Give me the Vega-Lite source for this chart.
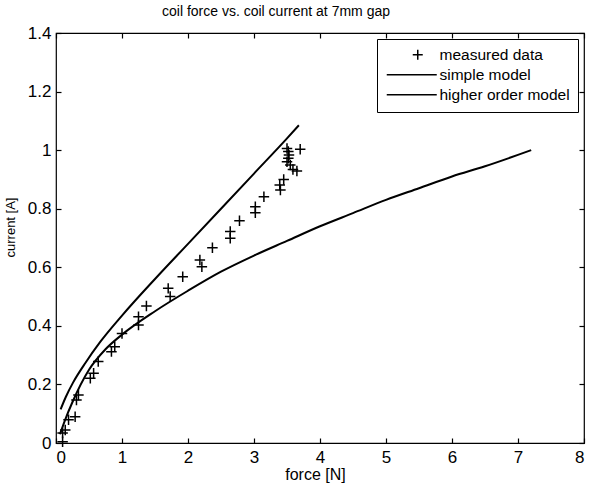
{
  "$schema": "https://vega.github.io/schema/vega-lite/v6.json",
  "width": 528,
  "height": 410,
  "autosize": {"type": "none"},
  "padding": {"left": 56, "top": 33, "right": 12, "bottom": 44},
  "background": "white",
  "title": {"text": "coil force vs. coil current at 7mm gap", "font": "Liberation Sans", "fontSize": 14, "fontWeight": "normal", "color": "black", "offset": 5, "dx": -44},
  "config": {
    "view": {"stroke": "black", "strokeWidth": 1.2},
    "axis": {"grid": false, "domain": false, "tickColor": "black", "tickSize": -5, "tickWidth": 1.2, "labelColor": "black", "labelFont": "Liberation Sans", "labelFontSize": 17, "titleFont": "Liberation Sans", "titleFontWeight": "normal", "titleColor": "black", "format": ".1~f"}
  },
  "data": {"values": [
    {"series": "measured data", "force": 0.10, "current": 0.004},
    {"series": "measured data", "force": 0.10, "current": 0.034},
    {"series": "measured data", "force": 0.14, "current": 0.044},
    {"series": "measured data", "force": 0.19, "current": 0.079},
    {"series": "measured data", "force": 0.29, "current": 0.09},
    {"series": "measured data", "force": 0.31, "current": 0.147},
    {"series": "measured data", "force": 0.34, "current": 0.164},
    {"series": "measured data", "force": 0.52, "current": 0.221},
    {"series": "measured data", "force": 0.57, "current": 0.238},
    {"series": "measured data", "force": 0.64, "current": 0.278},
    {"series": "measured data", "force": 0.84, "current": 0.312},
    {"series": "measured data", "force": 0.89, "current": 0.329},
    {"series": "measured data", "force": 1.00, "current": 0.374},
    {"series": "measured data", "force": 1.25, "current": 0.403},
    {"series": "measured data", "force": 1.25, "current": 0.431},
    {"series": "measured data", "force": 1.37, "current": 0.468},
    {"series": "measured data", "force": 1.70, "current": 0.528},
    {"series": "measured data", "force": 1.73, "current": 0.500},
    {"series": "measured data", "force": 1.92, "current": 0.568},
    {"series": "measured data", "force": 2.18, "current": 0.625},
    {"series": "measured data", "force": 2.21, "current": 0.602},
    {"series": "measured data", "force": 2.37, "current": 0.667},
    {"series": "measured data", "force": 2.64, "current": 0.722},
    {"series": "measured data", "force": 2.64, "current": 0.699},
    {"series": "measured data", "force": 2.78, "current": 0.759},
    {"series": "measured data", "force": 3.02, "current": 0.807},
    {"series": "measured data", "force": 3.02, "current": 0.786},
    {"series": "measured data", "force": 3.15, "current": 0.841},
    {"series": "measured data", "force": 3.39, "current": 0.881},
    {"series": "measured data", "force": 3.40, "current": 0.864},
    {"series": "measured data", "force": 3.45, "current": 0.900},
    {"series": "measured data", "force": 3.50, "current": 1.006},
    {"series": "measured data", "force": 3.52, "current": 0.995},
    {"series": "measured data", "force": 3.53, "current": 0.983},
    {"series": "measured data", "force": 3.50, "current": 0.960},
    {"series": "measured data", "force": 3.55, "current": 0.949},
    {"series": "measured data", "force": 3.59, "current": 0.934},
    {"series": "measured data", "force": 3.65, "current": 0.929},
    {"series": "measured data", "force": 3.70, "current": 1.003},
    {"series": "measured data", "force": 3.52, "current": 0.972},
    {"series": "simple model", "force": 0.07, "current": 0.115},
    {"series": "simple model", "force": 0.15, "current": 0.158},
    {"series": "simple model", "force": 0.26, "current": 0.207},
    {"series": "simple model", "force": 0.45, "current": 0.275},
    {"series": "simple model", "force": 0.67, "current": 0.345},
    {"series": "simple model", "force": 1.0, "current": 0.435},
    {"series": "simple model", "force": 1.5, "current": 0.56},
    {"series": "simple model", "force": 2.0, "current": 0.68},
    {"series": "simple model", "force": 2.5, "current": 0.80},
    {"series": "simple model", "force": 3.0, "current": 0.92},
    {"series": "simple model", "force": 3.5, "current": 1.04},
    {"series": "simple model", "force": 3.68, "current": 1.085},
    {"series": "higher order model", "force": 0.06, "current": 0.03},
    {"series": "higher order model", "force": 0.14, "current": 0.08},
    {"series": "higher order model", "force": 0.25, "current": 0.14},
    {"series": "higher order model", "force": 0.5, "current": 0.25},
    {"series": "higher order model", "force": 0.75, "current": 0.32},
    {"series": "higher order model", "force": 1.0, "current": 0.37},
    {"series": "higher order model", "force": 1.5, "current": 0.45},
    {"series": "higher order model", "force": 2.0, "current": 0.52},
    {"series": "higher order model", "force": 2.5, "current": 0.585},
    {"series": "higher order model", "force": 3.0, "current": 0.64},
    {"series": "higher order model", "force": 3.5, "current": 0.69},
    {"series": "higher order model", "force": 4.0, "current": 0.74},
    {"series": "higher order model", "force": 4.5, "current": 0.785},
    {"series": "higher order model", "force": 5.0, "current": 0.83},
    {"series": "higher order model", "force": 5.5, "current": 0.87},
    {"series": "higher order model", "force": 6.0, "current": 0.91},
    {"series": "higher order model", "force": 6.5, "current": 0.945},
    {"series": "higher order model", "force": 7.2, "current": 1.0}
  ]},
  "resolve": {"axis": {"x": "independent", "y": "independent"}},
  "layer": [
    {
      "transform": [{"filter": "datum.series !== 'measured data'"}],
      "mark": {"type": "line", "color": "black", "strokeWidth": 2, "interpolate": "monotone"},
      "encoding": {
        "x": {"field": "force", "type": "quantitative", "scale": {"domain": [0, 8], "nice": false}, "axis": {"orient": "bottom", "title": "force [N]", "titleFontSize": 16, "values": [0,1,2,3,4,5,6,7,8], "labelPadding": 11, "titleX": 259, "titleY": 23, "titleBaseline": "top"}},
        "y": {"field": "current", "type": "quantitative", "scale": {"domain": [0, 1.4], "nice": false}, "axis": {"orient": "left", "title": "current [A]", "titleFontSize": 13, "values": [0,0.2,0.4,0.6,0.8,1,1.2,1.4], "labelPadding": 10, "titleX": -39, "titleY": 194}},
        "detail": {"field": "series"}
      }
    },
    {
      "transform": [{"filter": "datum.series === 'measured data'"}],
      "mark": {"type": "point", "filled": false, "color": "black", "strokeWidth": 1.5, "size": 110, "opacity": 1, "shape": "M-1,0L1,0M0,-1L0,1"},
      "encoding": {
        "x": {"field": "force", "type": "quantitative", "scale": {"domain": [0, 8], "nice": false}, "axis": {"orient": "top", "title": null, "labels": false, "values": [0,1,2,3,4,5,6,7,8]}},
        "y": {"field": "current", "type": "quantitative", "scale": {"domain": [0, 1.4], "nice": false}, "axis": {"orient": "right", "title": null, "labels": false, "values": [0,0.2,0.4,0.6,0.8,1,1.2,1.4]}}
      }
    },
    {
      "transform": [{"filter": "datum.series === 'measured data'"}],
      "mark": {"type": "point", "filled": false, "color": "black", "strokeWidth": 1.5, "size": 100, "opacity": 0},
      "encoding": {
        "x": {"field": "force", "type": "quantitative", "scale": {"domain": [0, 8], "nice": false}, "axis": null},
        "y": {"field": "current", "type": "quantitative", "scale": {"domain": [0, 1.4], "nice": false}, "axis": null},
        "shape": {
          "field": "series", "type": "nominal",
          "scale": {"domain": ["measured data", "simple model", "higher order model"], "range": ["M4,0L6,0M5,-1L5,1", "M-1.2,0L8.8,0", "M-1.2,0L8.8,0"]},
          "legend": {"title": null, "orient": "top-right", "offset": 6, "strokeColor": "black", "fillColor": "white", "padding": 8, "labelFont": "Liberation Sans", "labelFontSize": 15.5, "labelColor": "black", "symbolSize": 100, "symbolOpacity": 1, "symbolStrokeWidth": 1.5, "symbolStrokeColor": "black", "symbolFillColor": "transparent", "rowPadding": 3, "labelOffset": 39}
        }
      }
    }
  ]
}
